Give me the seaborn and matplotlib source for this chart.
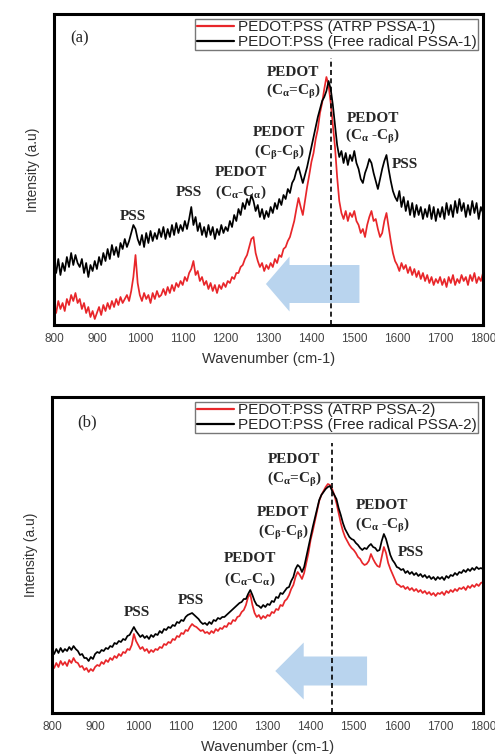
import numpy as np
import pandas as pd
import seaborn as sns
import matplotlib.pyplot as plt
from matplotlib.patches import FancyArrow
from matplotlib.ticker import MultipleLocator

# wavenumber grid (cm-1), values every 5 cm-1
wavenumber = np.arange(800, 1801, 5)

red_a = [20, 12, 24, 16, 22, 14, 26, 20, 30, 24, 32, 22, 26, 16, 22, 12, 18, 8, 14, 6,
         12, 18, 10, 20, 14, 22, 16, 24, 18, 26, 20, 28, 22, 26, 30, 24, 34, 48, 70, 42,
         30, 24, 32, 26, 30, 22, 32, 26, 34, 28, 30, 36, 30, 38, 32, 40, 34, 42, 38, 44,
         40, 48, 44, 52, 56, 64, 50, 54, 44, 48, 40, 44, 36, 42, 34, 40, 32, 40, 36, 42,
         38, 44, 42, 48, 46, 52, 52, 58, 60, 66, 70, 78, 86, 88, 72, 64, 58, 62, 54, 60,
         56, 62, 58, 66, 62, 70, 68, 76, 78, 84, 88, 96, 104, 116, 127, 118, 110, 124, 138, 150,
         163, 172, 186, 196, 212, 222, 236, 248, 240, 222, 200, 178, 148, 124, 112, 106, 114, 104, 112, 108,
         114, 104, 100, 92, 96, 88, 100, 108, 114, 104, 106, 96, 88, 92, 104, 112, 98, 84, 72, 64,
         60, 54, 62, 56, 60, 52, 58, 50, 56, 48, 54, 46, 52, 44, 50, 42, 48, 40, 46, 42,
         48, 40, 46, 38, 48, 42, 50, 40, 46, 42, 50, 44, 48, 40, 50, 44, 52, 42, 48, 44,
         52]
black_a = [64, 52, 66, 50, 62, 54, 68, 58, 72, 60, 70, 62, 58, 66, 52, 62, 48, 60, 54, 64,
           56, 68, 60, 72, 64, 76, 66, 80, 70, 78, 68, 82, 76, 86, 78, 84, 92, 100, 96, 86,
           80, 90, 78, 92, 82, 94, 84, 92, 86, 96, 88, 98, 86, 96, 88, 100, 90, 102, 92, 100,
           94, 104, 96, 106, 118, 100, 108, 94, 102, 90, 98, 88, 100, 90, 98, 86, 96, 90, 100, 92,
           98, 94, 104, 98, 110, 104, 116, 110, 122, 116, 126, 120, 130, 124, 114, 120, 108, 116, 106, 114,
           108, 118, 112, 122, 116, 126, 120, 130, 126, 136, 132, 142, 146, 154, 158, 150, 142, 150, 158, 168,
           178, 188, 198, 208, 216, 224, 228, 234, 244, 236, 220, 200, 180, 168, 174, 162, 172, 160, 170, 164,
           174, 162, 156, 146, 142, 152, 158, 166, 162, 152, 144, 136, 146, 156, 164, 170, 156, 144, 134, 128,
           124, 134, 118, 128, 114, 124, 110, 122, 108, 120, 110, 118, 106, 116, 108, 120, 106, 118, 104, 116,
           108, 118, 106, 122, 110, 120, 108, 124, 112, 126, 114, 122, 108, 120, 110, 124, 112, 122, 106, 118,
           112]
red_b = [49, 45, 50, 46, 52, 48, 51, 47, 53, 50, 55, 51, 50, 46, 47, 43, 45, 41, 44, 42,
         46, 48, 47, 51, 49, 53, 51, 55, 53, 57, 55, 59, 57, 61, 60, 64, 63, 68, 79, 72,
         68, 64, 66, 62, 64, 60, 63, 61, 64, 63, 66, 65, 69, 68, 71, 70, 74, 73, 77, 76,
         80, 79, 83, 82, 86, 89, 87, 86, 84, 82, 83, 80, 81, 79, 82, 80, 84, 82, 85, 84,
         87, 86, 90, 89, 93, 92, 96, 97, 101, 103, 108, 116, 119, 108, 100, 96, 98, 94, 97, 95,
         98, 97, 101, 100, 104, 103, 108, 107, 112, 114, 118, 124, 128, 136, 141, 138, 134, 140, 150, 160,
         173, 182, 192, 202, 212, 218, 222, 226, 229, 228, 224, 218, 210, 200, 190, 182, 176, 172, 168, 165,
         163, 160, 156, 154, 150, 148, 149, 152, 159, 154, 150, 147, 146, 156, 166, 160, 150, 144, 139, 134,
         129, 128, 126, 127, 124, 126, 123, 125, 122, 124, 121, 123, 120, 122, 119, 121, 118, 120, 117, 120,
         119, 121, 118, 122, 120, 123, 121, 124, 122, 125, 124, 126, 123, 127, 125, 128, 126, 129, 127, 130,
         131]
black_b = [63, 59, 64, 60, 65, 61, 64, 62, 66, 63, 67, 64, 62, 58, 59, 55, 55, 52, 56, 54,
           59, 61, 60, 63, 62, 65, 64, 67, 66, 70, 69, 72, 71, 74, 73, 77, 78, 82, 86, 82,
           79, 76, 78, 75, 77, 74, 78, 76, 79, 78, 82, 80, 84, 83, 86, 85, 88, 87, 91, 90,
           93, 92, 96, 98, 99, 100, 98, 96, 94, 91, 89, 90, 88, 91, 89, 93, 92, 95, 94, 96,
           96, 98, 100, 102, 104, 106, 108, 110, 111, 114, 114, 119, 123, 118, 112, 108, 107, 105, 108, 106,
           109, 108, 112, 111, 116, 115, 120, 119, 122, 125, 126, 132, 136, 144, 148, 146, 141, 146, 156, 166,
           176, 186, 195, 204, 213, 218, 221, 224, 226, 227, 222, 218, 214, 205, 198, 190, 184, 180, 176, 174,
           173, 170, 168, 165, 163, 165, 164, 167, 169, 166, 165, 162, 163, 172, 179, 174, 166, 158, 153, 150,
           146, 145, 143, 144, 140, 142, 139, 141, 138, 140, 137, 139, 136, 138, 135, 137, 134, 136, 133, 136,
           134, 136, 133, 137, 135, 138, 137, 140, 138, 141, 140, 143, 141, 144, 142, 145, 143, 146, 144, 145,
           144]

labels_a = ['PEDOT:PSS (ATRP PSSA-1)', 'PEDOT:PSS (Free radical PSSA-1)']
labels_b = ['PEDOT:PSS (ATRP PSSA-2)', 'PEDOT:PSS (Free radical PSSA-2)']

# peak labels: (text, x, y)
notes_a = [('PEDOT', 1357, 252), (r'(C$_\alpha$=C$_\beta$)', 1357, 233),
           ('PEDOT', 1543, 207), (r'(C$_\alpha$ -C$_\beta$)', 1543, 188),
           ('PSS', 1617, 160),
           ('PEDOT', 1325, 192), (r'(C$_\beta$-C$_\beta$)', 1325, 172),
           ('PEDOT', 1236, 153), (r'(C$_\alpha$-C$_\alpha$)', 1236, 133),
           ('PSS', 1115, 133), ('PSS', 984, 108)]
notes_b = [('PEDOT', 1362, 254), (r'(C$_\alpha$=C$_\beta$)', 1362, 234),
           ('PEDOT', 1566, 208), (r'(C$_\alpha$ -C$_\beta$)', 1566, 188),
           ('PSS', 1633, 161),
           ('PEDOT', 1337, 201), (r'(C$_\beta$-C$_\beta$)', 1337, 181),
           ('PEDOT', 1259, 154), (r'(C$_\alpha$-C$_\alpha$)', 1259, 134),
           ('PSS', 1122, 112), ('PSS', 997, 101)]

sns.set_style('white')
plt.rcParams['font.family'] = ['Liberation Sans', 'DejaVu Sans']
plt.rcParams['mathtext.default'] = 'regular'

fig = plt.figure(figsize=(4.95, 7.56), dpi=100)
ax_a = fig.add_axes([54 / 495, 1 - 325 / 756, 429 / 495, 311 / 756])
ax_b = fig.add_axes([52 / 495, 1 - 713 / 756, 431 / 495, 316 / 756])


def draw_panel(ax, red, black, labels, notes, tag, tag_x, ymax, peak, dash_top, arrow):
    df = pd.DataFrame({
        'wavenumber': np.concatenate([wavenumber, wavenumber]),
        'intensity': red + black,
        'sample': [labels[0]] * len(red) + [labels[1]] * len(black),
    })
    sns.lineplot(data=df, x='wavenumber', y='intensity', hue='sample',
                 palette={labels[0]: '#e8262a', labels[1]: 'black'},
                 linewidth=1.25, ax=ax)
    ax.set_xlim(800, 1800)
    ax.set_ylim(0, ymax)
    ax.set_yticks([])
    ax.xaxis.set_major_locator(MultipleLocator(100))
    ax.xaxis.set_minor_locator(MultipleLocator(50))
    ax.tick_params(axis='x', which='major', direction='in', length=5, width=1.6,
                   labelsize=8.5, labelcolor='#444444', pad=6)
    ax.tick_params(axis='x', which='minor', direction='in', length=3, width=1.4)
    for sp in ax.spines.values():
        sp.set_linewidth(2.2)
        sp.set_color('black')
    ax.set_xlabel('Wavenumber (cm-1)', fontsize=10.5, color='#333333', labelpad=5)
    ax.set_ylabel('Intensity (a.u)', fontsize=10, color='#333333', labelpad=10)

    x0, y0, dx, w, hw, hl = arrow
    ax.add_patch(FancyArrow(x0, y0, dx, 0, width=w, head_width=hw, head_length=hl,
                            length_includes_head=True, color='#b9d4ee', lw=0, zorder=0.5))
    ax.axvline(peak, ymin=0, ymax=dash_top, color='black', lw=1.2, ls=(0, (3, 2)), zorder=3)

    for txt, x, y in notes:
        ax.text(x, y, txt, ha='center', va='center', fontsize=11,
                fontweight='bold', family='Liberation Serif')
    ax.text(tag_x, 0.92, tag, transform=ax.transAxes, ha='left', va='center',
            fontsize=12, family='Liberation Serif')

    leg = ax.legend(loc='upper right', fontsize=11, frameon=True, fancybox=False,
                    borderpad=0.1, borderaxespad=0.3, handlelength=2.4,
                    handletextpad=0.3, labelspacing=0.05, title=None)
    leg.get_frame().set_edgecolor('#555555')
    leg.get_frame().set_linewidth(1.0)
    for line in leg.get_lines():
        line.set_linewidth(1.6)


draw_panel(ax_a, red_a, black_a, labels_a, notes_a, '(a)', 0.037, 311, 1445, 0.86,
           (1512, 41, -218, 38, 55, 55))
draw_panel(ax_b, red_b, black_b, labels_b, notes_b, '(b)', 0.058, 316, 1450, 0.855,
           (1531, 42, -213, 29, 57, 66))

fig.savefig('out.png', dpi=100)
